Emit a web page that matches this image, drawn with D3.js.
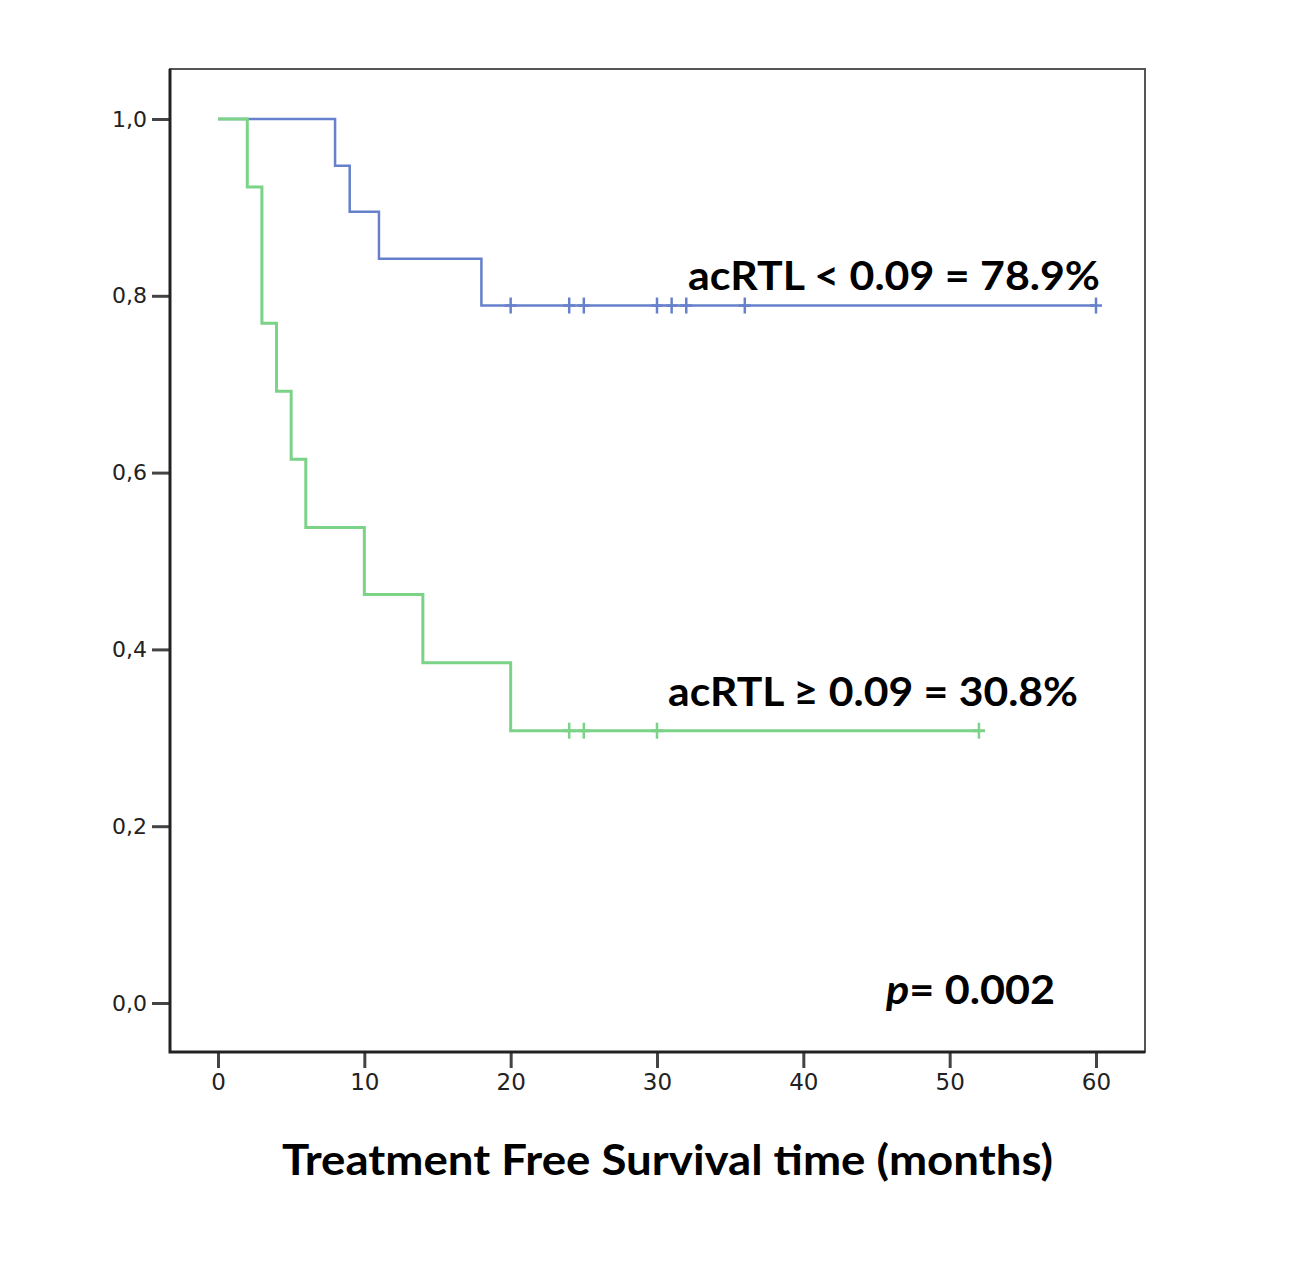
<!DOCTYPE html>
<html>
<head>
<meta charset="utf-8">
<script src="https://cdn.jsdelivr.net/npm/d3@7"></script>
<style>
  body { margin: 0; background: #fff; }
</style>
</head>
<body>
<div id="chart"></div>
<script>
// Kaplan-Meier steps
const blueTime = [0, 8, 9, 11, 18];
const blueSurv = [1.0, 0.947, 0.895, 0.842, 0.789];
const blueEnd = 60;
const blueCensor = [20, 24, 25, 30, 31, 32, 36, 60];

const greenTime = [0, 2, 3, 4, 5, 6, 10, 14, 20];
const greenSurv = [1.0, 0.923, 0.769, 0.692, 0.615, 0.538, 0.462, 0.385, 0.308];
const greenEnd = 52;
const greenCensor = [24, 25, 30, 52];

const xTicks = [0, 10, 20, 30, 40, 50, 60];
const yTicks = [0, 0.2, 0.4, 0.6, 0.8, 1.0];

const labels = {
  blue: "acRTL < 0.09 = 78.9%",
  green: "acRTL \u2265 0.09 = 30.8%",
  p: "0.002",
  xTitle: "Treatment Free Survival time (months)",
};

const width = 1298;
const height = 1282;

const svg = d3
  .select("#chart")
  .append("svg")
  .attr("width", width)
  .attr("height", height);

// frame of the plot
const frame = { left: 170, right: 1145, top: 69, bottom: 1052 };

const x = d3.scaleLinear().domain([0, 60]).range([218, 1096]);
const y = d3.scaleLinear().domain([0, 1]).range([1003, 119]);

svg
  .append("rect")
  .attr("x", frame.left)
  .attr("y", frame.top)
  .attr("width", frame.right - frame.left)
  .attr("height", frame.bottom - frame.top)
  .attr("fill", "none")
  .attr("stroke", "#555")
  .attr("stroke-width", 2);

// y axis
const yAxis = svg
  .append("g")
  .attr("transform", `translate(${frame.left},0)`)
  .call(
    d3
      .axisLeft(y)
      .tickValues(yTicks)
      .tickSize(18)
      .tickPadding(5)
      .tickFormat((d) => d.toFixed(1).replace(".", ","))
  );
yAxis.select(".domain").remove();
yAxis.selectAll("line").attr("stroke", "#444").attr("stroke-width", 3);
yAxis
  .selectAll("text")
  .attr("font-family", "DejaVu Sans")
  .attr("font-size", 22)
  .attr("fill", "#222");

// x axis
const xAxis = svg
  .append("g")
  .attr("transform", `translate(0,${frame.bottom})`)
  .call(d3.axisBottom(x).tickValues(xTicks).tickSize(16).tickPadding(6));
xAxis.select(".domain").remove();
xAxis.selectAll("line").attr("stroke", "#444").attr("stroke-width", 3);
xAxis
  .selectAll("text")
  .attr("font-family", "DejaVu Sans")
  .attr("font-size", 23)
  .attr("fill", "#222");

// left and bottom axis lines on top of frame
svg
  .append("path")
  .attr("d", `M${frame.left},${frame.top}V${frame.bottom}H${frame.right}`)
  .attr("fill", "none")
  .attr("stroke", "#222")
  .attr("stroke-width", 3);

const line = d3
  .line()
  .x((d) => x(d[0]))
  .y((d) => y(d[1]))
  .curve(d3.curveStepAfter);

function drawCurve(times, surv, end, censor, colour, lineWidth) {
  const pts = times.map((t, i) => [t, surv[i]]);
  pts.push([end, surv[surv.length - 1]]);
  svg
    .append("path")
    .datum(pts)
    .attr("d", line)
    .attr("fill", "none")
    .attr("stroke", colour)
    .attr("stroke-width", lineWidth);

  const last = surv[surv.length - 1];
  const marks = svg.append("g").selectAll("g").data(censor).enter().append("g");
  marks
    .append("line")
    .attr("x1", (d) => x(d))
    .attr("x2", (d) => x(d))
    .attr("y1", y(last) - 8)
    .attr("y2", y(last) + 8)
    .attr("stroke", colour)
    .attr("stroke-width", 2.5);
  marks
    .append("line")
    .attr("x1", (d) => x(d) - 6)
    .attr("x2", (d) => x(d) + 6)
    .attr("y1", y(last))
    .attr("y2", y(last))
    .attr("stroke", colour)
    .attr("stroke-width", lineWidth);
}

drawCurve(blueTime, blueSurv, blueEnd, blueCensor, "#6680cc", 2.5);
drawCurve(greenTime, greenSurv, greenEnd, greenCensor, "#7bd388", 3);

// annotations
svg
  .append("text")
  .attr("x", 688)
  .attr("y", 290)
  .attr("textLength", 412)
  .attr("lengthAdjust", "spacingAndGlyphs")
  .attr("font-family", "Lato")
  .attr("font-weight", "bold")
  .attr("font-size", 41)
  .attr("fill", "#000")
  .text(labels.blue);

svg
  .append("text")
  .attr("x", 668)
  .attr("y", 706)
  .attr("textLength", 410)
  .attr("lengthAdjust", "spacingAndGlyphs")
  .attr("font-family", "Lato")
  .attr("font-weight", "bold")
  .attr("font-size", 41)
  .attr("fill", "#000")
  .text(labels.green);

const pText = svg
  .append("text")
  .attr("x", 886)
  .attr("y", 1004)
  .attr("textLength", 169)
  .attr("lengthAdjust", "spacingAndGlyphs")
  .attr("font-family", "Lato")
  .attr("font-weight", "bold")
  .attr("font-size", 41)
  .attr("fill", "#000");
pText.append("tspan").attr("font-style", "italic").text("p");
pText.append("tspan").text("= " + labels.p);

svg
  .append("text")
  .attr("x", 282)
  .attr("y", 1175)
  .attr("textLength", 771)
  .attr("lengthAdjust", "spacingAndGlyphs")
  .attr("font-family", "Lato")
  .attr("font-weight", "bold")
  .attr("font-size", 42)
  .attr("fill", "#000")
  .text(labels.xTitle);
</script>
</body>
</html>
